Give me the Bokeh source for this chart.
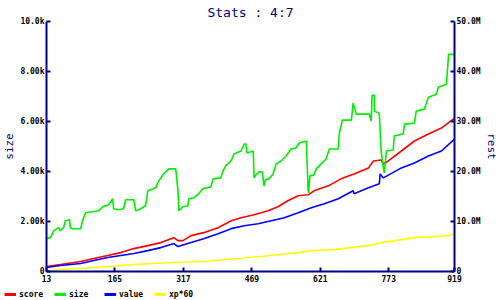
from bokeh.plotting import figure
from bokeh.layouts import column, row
from bokeh.models import (Range1d, LinearAxis, FixedTicker, Legend, LegendItem)
from bokeh.embed import file_html
from bokeh.resources import INLINE

# ---- data ----
size_x = [13, 22, 29, 40, 44, 51, 55, 64, 66, 71, 89, 93, 100, 115, 129, 138, 151, 160, 162, 173,
          184, 189, 207, 211, 222, 233, 238, 256, 260, 267, 273, 285, 300, 305, 307, 316, 327, 329,
          340, 351, 360, 378, 383, 400, 405, 411, 423, 429, 445, 452, 456, 458, 472, 474, 478, 485,
          492, 496, 499, 507, 516, 523, 534, 545, 556, 567, 574, 590, 592, 594, 595, 598, 607, 612,
          623, 634, 641, 661, 663, 670, 690, 694, 696, 701, 730, 734, 736, 741, 741, 752, 756, 761,
          763, 768, 783, 785, 805, 808, 830, 834, 852, 861, 879, 883, 901, 906, 919]
size_y = [1315, 1355, 1633, 1753, 1633, 1753, 2032, 2072, 1753, 1713, 1713, 2032, 2351, 2390, 2430,
          2590, 2669, 2908, 2510, 2470, 2510, 2868, 2868, 2430, 2510, 2629, 3227, 3347, 3546, 3745,
          3904, 4104, 4104, 3227, 2430, 2590, 2629, 2908, 2948, 3108, 3307, 3386, 3705, 3745, 4024,
          4223, 4422, 4701, 4821, 5100, 5100, 4741, 4821, 3745, 3864, 3984, 3984, 3426, 3665, 3705,
          3904, 4303, 4422, 4621, 4900, 4940, 5139, 5219, 4223, 3227, 3147, 3825, 3864, 4104, 4303,
          4502, 4900, 4900, 5498, 6056, 6056, 6733, 6614, 6295, 6295, 6016, 7052, 7052, 6414, 6335,
          4821, 4143, 3944, 4821, 4861, 5418, 5498, 5896, 5936, 6414, 6494, 6972, 7092, 7370, 7490,
          8685, 8685]

score_x = [13, 44, 89, 118, 149, 178, 207, 238, 267, 296, 305, 316, 334, 362, 394, 423, 445, 474,
           505, 527, 549, 572, 594, 607, 639, 667, 696, 728, 739, 756, 761, 772, 801, 830, 861, 890, 919]
score_y = [1.0, 1.39, 1.99, 2.59, 3.19, 3.78, 4.58, 5.18, 5.78, 6.77, 6.18, 6.18, 7.17, 7.77, 8.76,
           10.16, 10.76, 11.35, 12.15, 12.95, 14.14, 15.14, 15.34, 16.14, 17.13, 18.53, 19.52, 20.72,
           22.11, 22.31, 21.51, 22.11, 24.1, 26.1, 27.49, 28.68, 30.68]

value_x = [13, 44, 89, 118, 149, 178, 207, 238, 267, 296, 305, 334, 362, 394, 423, 452, 483, 512,
           541, 572, 601, 630, 661, 694, 696, 728, 752, 754, 761, 801, 830, 861, 890, 919]
value_y = [0.8, 1.2, 1.59, 2.19, 2.79, 3.19, 3.59, 4.18, 4.78, 5.58, 4.98, 5.78, 6.57, 7.57, 8.57,
           9.16, 9.56, 10.16, 10.76, 11.75, 12.75, 13.55, 14.54, 16.14, 15.54, 16.73, 17.53, 19.52,
           18.72, 20.72, 21.71, 23.11, 24.1, 26.49]

xp_x = [13, 44, 89, 149, 207, 251, 296, 362, 438, 512, 572, 601, 652, 728, 756, 801, 830, 874, 906, 919]
xp_y = [0.0, 0.4, 0.6, 1.0, 1.39, 1.59, 1.79, 1.99, 2.59, 3.19, 3.78, 4.18, 4.38, 5.18, 5.78, 6.37,
        6.77, 6.97, 7.17, 7.57]

x_ticks = [13, 165, 317, 469, 621, 773, 919]
left_ticks = [0, 2000, 4000, 6000, 8000, 10000]
left_labels = ["0", "2.00k", "4.00k", "6.00k", "8.00k", "10.0k"]
right_ticks = [0, 10, 20, 30, 40, 50]
right_labels = ["0", "10.0M", "20.0M", "30.0M", "40.0M", "50.0M"]

series_names = ["score", "size", "value", "xp*60"]
series_colors = ["#ff0000", "#00ee00", "#0000ff", "#ffff00"]

NAVY = "#000080"
MONO = "DejaVu Sans Mono"

p = figure(width=500, height=286, output_backend="svg", toolbar_location=None,
           x_range=Range1d(13, 919), y_range=Range1d(0, 10000),
           title="Stats : 4:7", min_border_left=0, min_border_right=0,
           min_border_top=0, min_border_bottom=15)
p.extra_y_ranges = {"rest": Range1d(0, 50)}
p.outline_line_color = None
p.grid.visible = False
p.background_fill_color = "white"
p.border_fill_color = "white"

p.title.align = "center"
p.title.text_color = NAVY
p.title.text_font = MONO
p.title.text_font_size = "13px"
p.title.text_font_style = "normal"
p.title.standoff = 4

def style_axis(ax, ticks, overrides):
    ax.ticker = FixedTicker(ticks=ticks)
    if overrides:
        ax.major_label_overrides = overrides
    ax.axis_line_color = NAVY
    ax.axis_line_width = 2
    ax.major_tick_line_color = NAVY
    ax.major_tick_line_width = 2
    ax.major_tick_in = 4
    ax.major_tick_out = 0
    ax.minor_tick_line_color = None
    ax.major_label_text_font = MONO
    ax.major_label_text_font_size = "8px"
    ax.major_label_text_font_style = "bold"
    ax.major_label_text_color = "black"
    ax.major_label_standoff = 2
    ax.axis_label_text_font = MONO
    ax.axis_label_text_font_size = "11px"
    ax.axis_label_text_font_style = "normal"
    ax.axis_label_text_color = NAVY
    ax.axis_label_standoff = 1

style_axis(p.xaxis[0], x_ticks, {t: str(t) for t in x_ticks})
p.xaxis[0].major_label_standoff = 3
style_axis(p.yaxis[0], left_ticks, dict(zip(left_ticks, left_labels)))
p.yaxis[0].axis_label = "size"

ra = LinearAxis(y_range_name="rest", axis_label="rest")
style_axis(ra, right_ticks, dict(zip(right_ticks, right_labels)))
p.add_layout(ra, "right")

p.line(score_x, score_y, color=series_colors[0], line_width=1.6, y_range_name="rest")
p.line(size_x, size_y, color=series_colors[1], line_width=1.6)
p.line(value_x, value_y, color=series_colors[2], line_width=1.6, y_range_name="rest")
p.line(xp_x, xp_y, color=series_colors[3], line_width=1.6, y_range_name="rest")

# legend strip below the chart
lg = figure(width=500, height=14, output_backend="svg", toolbar_location=None,
            x_range=Range1d(0, 1), y_range=Range1d(0, 1),
            x_axis_location=None, y_axis_location=None,
            min_border_left=0, min_border_right=0, min_border_top=0, min_border_bottom=0)
lg.grid.visible = False
lg.outline_line_color = None
lg.border_fill_color = "white"
items = []
for name, col in zip(series_names, series_colors):
    r = lg.line([5, 6], [5, 6], color=col, line_width=3)
    items.append(LegendItem(label=name, renderers=[r]))
legend = Legend(items=items, orientation="horizontal", location=(4, 1),
                label_text_font=MONO, label_text_font_size="8px",
                label_text_font_style="bold", label_text_color="black",
                glyph_width=12, glyph_height=10, label_standoff=3, spacing=0,
                label_width=35, label_height=10,
                padding=0, margin=0, border_line_color=None,
                background_fill_alpha=0)
lg.add_layout(legend, "center")

layout = column(column(p), column(lg), spacing=0)
open("out.html", "w").write(file_html(layout, INLINE))
